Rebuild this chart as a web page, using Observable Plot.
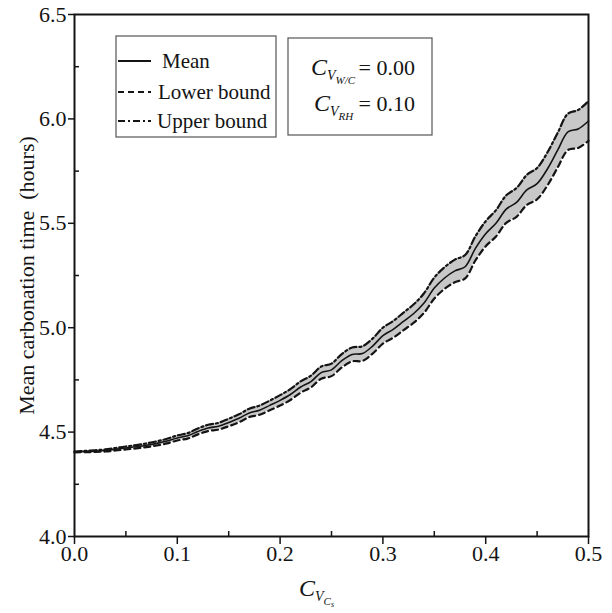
<!DOCTYPE html>
<html>
<head>
<meta charset="utf-8">
<script src="https://cdn.jsdelivr.net/npm/d3@7"></script>
<script src="https://cdn.jsdelivr.net/npm/@observablehq/plot@0.6"></script>
<style>
  html, body { margin: 0; padding: 0; background: #fff; }
  #chart { width: 612px; height: 613px; }
</style>
</head>
<body>
<div id="chart"></div>
<script>
// ---- data ----
const cvX = [0.00,0.01,0.02,0.03,0.04,0.05,0.06,0.07,0.08,0.09,
             0.10,0.11,0.12,0.13,0.14,0.15,0.16,0.17,0.18,0.19,
             0.20,0.21,0.22,0.23,0.24,0.25,0.26,0.27,0.28,0.29,
             0.30,0.31,0.32,0.33,0.34,0.35,0.36,0.37,0.38,0.39,
             0.40,0.41,0.42,0.43,0.44,0.45,0.46,0.47,0.48,0.49,0.50];
const meanTime = [4.405,4.407,4.409,4.412,4.418,4.424,4.430,4.437,4.446,4.457,
                  4.472,4.482,4.503,4.520,4.528,4.546,4.566,4.592,4.605,4.628,
                  4.652,4.680,4.716,4.742,4.785,4.798,4.842,4.872,4.876,4.912,
                  4.962,4.992,5.030,5.068,5.118,5.190,5.238,5.272,5.292,5.380,
                  5.450,5.500,5.568,5.600,5.660,5.690,5.760,5.850,5.938,5.952,5.990];
const upperTime = [4.407,4.410,4.413,4.417,4.424,4.431,4.438,4.446,4.456,4.468,
                   4.484,4.495,4.517,4.535,4.544,4.564,4.585,4.612,4.627,4.651,
                   4.677,4.706,4.743,4.770,4.814,4.828,4.874,4.905,4.911,4.948,
                   5.000,5.032,5.072,5.112,5.165,5.240,5.290,5.326,5.348,5.438,
                   5.510,5.563,5.634,5.669,5.732,5.765,5.839,5.933,6.025,6.043,6.085];
const lowerTime = [4.403,4.404,4.405,4.407,4.412,4.417,4.422,4.428,4.436,4.446,
                   4.460,4.469,4.489,4.505,4.512,4.528,4.547,4.572,4.583,4.605,
                   4.627,4.654,4.689,4.714,4.756,4.768,4.810,4.839,4.841,4.876,
                   4.924,4.952,4.988,5.024,5.071,5.140,5.186,5.218,5.236,5.322,
                   5.390,5.437,5.502,5.531,5.588,5.615,5.681,5.767,5.851,5.861,5.895];
const yMajorTicks = [4.0, 4.5, 5.0, 5.5, 6.0, 6.5];
const yMinorTicks = [4.25, 4.75, 5.25, 5.75, 6.25];
const xMajorTicks = [0.0, 0.1, 0.2, 0.3, 0.4, 0.5];
const xMinorTicks = [0.05, 0.15, 0.25, 0.35, 0.45];
const legendLabels = ["Mean", "Lower bound", "Upper bound"];
const yLabel = "Mean carbonation time\u00a0\u00a0(hours)";

const rows = cvX.map((x, i) => ({x, mean: meanTime[i], lower: lowerTime[i], upper: upperTime[i]}));
const ink = "#141414";
const curve = "catmull-rom";
const serif = "'Liberation Serif', 'Times New Roman', serif";

const plot = Plot.plot({
  width: 612,
  height: 613,
  marginLeft: 74,
  marginRight: 24,
  marginTop: 14,
  marginBottom: 77,
  style: {fontFamily: serif, fontSize: "22px", color: ink, background: "#fff"},
  x: {domain: [0, 0.5]},
  y: {domain: [4, 6.5]},
  marks: [
    Plot.areaY(rows, {x: "x", y1: "lower", y2: "upper", fill: "#c8c8c8", curve}),
    Plot.line(rows, {x: "x", y: "lower", stroke: ink, strokeWidth: 2.2, strokeDasharray: "6,4", curve}),
    Plot.line(rows, {x: "x", y: "upper", stroke: ink, strokeWidth: 2.2, strokeDasharray: "7,3,2,3", curve}),
    Plot.line(rows, {x: "x", y: "mean", stroke: ink, strokeWidth: 1.6, curve}),
    Plot.frame({stroke: ink, strokeWidth: 2}),
    Plot.axisY({ticks: yMajorTicks, tickSize: 6, tickPadding: 2, tickFormat: d3.format(".1f"), label: null, stroke: ink, strokeWidth: 1.5, fontSize: 22}),
    Plot.axisY({ticks: yMinorTicks, tickSize: -5, tickFormat: () => "", label: null, stroke: ink, strokeWidth: 1.5}),
    Plot.axisX({ticks: xMajorTicks, tickSize: 8, tickPadding: 1, tickFormat: d3.format(".1f"), label: null, stroke: ink, strokeWidth: 1.5, fontSize: 22}),
    Plot.axisX({ticks: xMinorTicks, tickSize: -5, tickFormat: () => "", label: null, stroke: ink, strokeWidth: 1.5}),
    Plot.text([yLabel], {frameAnchor: "left", rotate: -90, dx: -48, textAnchor: "middle", fontSize: 22, fill: ink})
  ]
});

document.getElementById("chart").appendChild(plot);

// ---- legend and annotation (drawn into the same SVG) ----
const svg = d3.select(plot);
const g = svg.append("g").attr("font-family", serif).attr("fill", ink).attr("text-anchor", "start");

// legend box
g.append("rect").attr("x", 116).attr("y", 36).attr("width", 160).attr("height", 101)
  .attr("fill", "#fff").attr("stroke", "#555").attr("stroke-width", 1.2);
const legendRows = [
  {label: legendLabels[0], dash: null, ly: 61, tx: 162},
  {label: legendLabels[1], dash: "6,4", ly: 92, tx: 158},
  {label: legendLabels[2], dash: "7,3,2,3", ly: 121, tx: 157}
];
legendRows.forEach(r => {
  g.append("line").attr("x1", 118).attr("x2", 151).attr("y1", r.ly).attr("y2", r.ly)
    .attr("stroke", ink).attr("stroke-width", r.dash ? 2.2 : 1.8)
    .attr("stroke-dasharray", r.dash);
  g.append("text").attr("x", r.tx).attr("y", r.ly + 7).attr("font-size", 21)
    .attr("text-anchor", "start").text(r.label);
});

// annotation box
g.append("rect").attr("x", 288).attr("y", 38).attr("width", 144).attr("height", 97)
  .attr("fill", "#fff").attr("stroke", "#555").attr("stroke-width", 1.2);
const ann = [
  {sub: "W/C", val: "= 0.00", base: 75, cx: 311},
  {sub: "RH", val: "= 0.10", base: 111, cx: 314}
];
ann.forEach(a => {
  const t = g.append("text").attr("x", a.cx).attr("y", a.base).attr("font-size", 24).attr("text-anchor", "start");
  t.append("tspan").attr("font-style", "italic").text("C");
  t.append("tspan").attr("font-style", "italic").attr("font-size", 14).attr("dy", 5).text("V");
  t.append("tspan").attr("font-style", "italic").attr("font-size", 11).attr("dy", 4).text(a.sub);
  g.append("text").attr("x", 415).attr("y", a.base).attr("font-size", 22).attr("text-anchor", "end").text(a.val);
});

// x axis label C_{V_{C_s}}
const xl = g.append("text").attr("x", 299).attr("y", 596).attr("font-size", 24).attr("text-anchor", "start");
xl.append("tspan").attr("font-style", "italic").text("C");
xl.append("tspan").attr("font-style", "italic").attr("font-size", 14).attr("dy", 5).text("V");
xl.append("tspan").attr("font-style", "italic").attr("font-size", 11).attr("dy", 4).text("C");
xl.append("tspan").attr("font-style", "italic").attr("font-size", 8).attr("dy", 2).text("s");
</script>
</body>
</html>
